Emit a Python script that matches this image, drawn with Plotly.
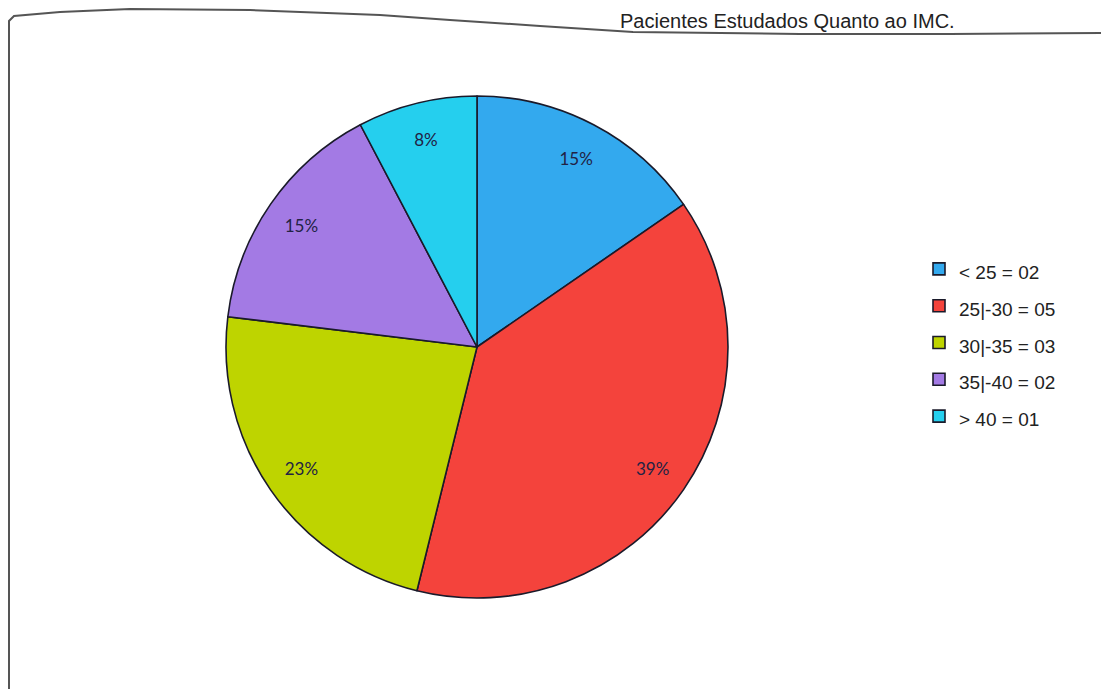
import plotly.graph_objects as go

# page body adds an 8px margin, so the figure is drawn 8px right/down
OFF = 8
W, H = 1109 - OFF, 689 - OFF

categories = ["< 25 = 02", "25|-30 = 05", "30|-35 = 03", "35|-40 = 02", "> 40 = 01"]
counts = [2, 5, 3, 2, 1]
pct_labels = ["15%", "39%", "23%", "15%", "8%"]
colors = ["#33A9EE", "#F4433C", "#BED400", "#A37AE4", "#25CFEE"]
title_text = "Pacientes Estudados Quanto ao IMC."


def px(x):
    return (x - OFF) / W


def py(y):
    return 1 - (y - OFF) / H


CX, CY, R = 477, 347, 251
dom = dict(x=[px(CX - R), px(CX + R)], y=[py(CY + R), py(CY - R)])

# legend rows are spaced by the legend font; the label text itself is drawn smaller
legend_labels = [f"<span style='font-size:19px'>{c}</span>" for c in categories]

fig = go.Figure()
# coloured pie
fig.add_trace(go.Pie(
    labels=legend_labels,
    values=counts,
    textinfo="none",
    sort=False,
    direction="clockwise",
    rotation=0,
    marker=dict(colors=colors, line=dict(color="#1a1a2a", width=1.6)),
    domain=dom,
    hoverinfo="value+percent",
))
# transparent ring carrying the percentage labels near the rim
fig.add_trace(go.Pie(
    labels=legend_labels,
    values=counts,
    text=pct_labels,
    textinfo="text",
    textposition="inside",
    insidetextorientation="horizontal",
    sort=False,
    direction="clockwise",
    rotation=0,
    hole=0.70,
    showlegend=False,
    marker=dict(colors=["rgba(0,0,0,0)"] * len(counts), line=dict(width=0)),
    textfont=dict(family="Lato", size=17, color="#222244"),
    domain=dom,
    hoverinfo="skip",
))

# scanned frame outline (left edge and wavy top edge)
pts = [(9, 689), (9, 21), (14, 16), (60, 12), (130, 9), (250, 10), (380, 15),
       (450, 20), (540, 26), (633, 32), (800, 34), (950, 34), (1109, 33)]
path = "M " + " L ".join(f"{px(x):.5f},{py(y):.5f}" for x, y in pts)
fig.add_shape(type="path", xref="paper", yref="paper", path=path,
              line=dict(color="#555555", width=2))

fig.add_annotation(
    x=px(957), y=py(OFF), xref="paper", yref="paper",
    xanchor="right", yanchor="top", showarrow=False,
    text=title_text,
    font=dict(family="Liberation Sans", size=20, color="#222222"),
)

fig.update_layout(
    width=W, height=H,
    margin=dict(l=0, r=0, t=0, b=0),
    paper_bgcolor="white",
    plot_bgcolor="white",
    showlegend=True,
    legend=dict(
        x=px(919), y=py(343), xanchor="left", yanchor="middle",
        font=dict(family="Liberation Sans", size=26, color="#222222"),
        itemwidth=30,
        bgcolor="rgba(0,0,0,0)",
    ),
)

fig.write_html("out.html")
